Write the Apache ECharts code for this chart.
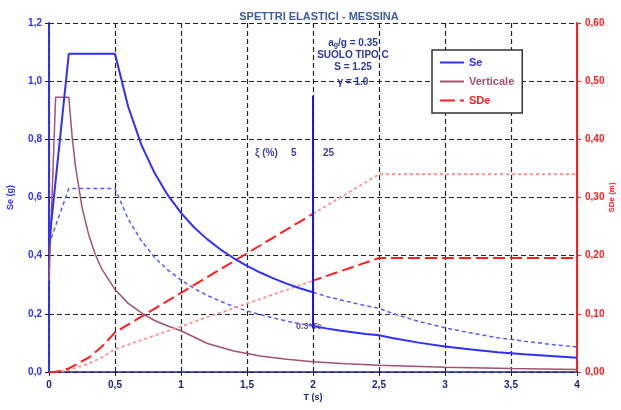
<!DOCTYPE html>
<html>
<head>
<meta charset="utf-8">
<script src="https://cdn.jsdelivr.net/npm/echarts@6/dist/echarts.min.js"></script>
<style>
  html, body { margin: 0; padding: 0; background: #fff; }
  #chart { width: 621px; height: 410px; }
</style>
</head>
<body>
<div id="chart"></div>
<script>
// periodo T (s) -> Se (g) / SDe (m)
var seMain = [[0,0.438],[0.15,1.094],[0.5,1.094],[0.6,0.912],[0.7,0.781],[0.8,0.684],[0.9,0.608],[1.0,0.547],
  [1.1,0.497],[1.2,0.456],[1.3,0.421],[1.4,0.391],[1.5,0.365],[1.6,0.342],[1.7,0.322],[1.8,0.304],[1.9,0.288],
  [2.0,0.274],[2.0,0.158],[2.1,0.150],[2.2,0.143],[2.3,0.137],[2.4,0.131],[2.5,0.126],[2.6,0.117],[2.8,0.101],
  [3.0,0.088],[3.2,0.077],[3.4,0.068],[3.6,0.061],[3.8,0.055],[4.0,0.049]];
var seAltA = [[0,0.438],[0.15,0.631],[0.5,0.631],[0.6,0.526],[0.7,0.451],[0.8,0.394],[0.9,0.351],[1.0,0.316],
  [1.1,0.287],[1.2,0.263],[1.3,0.243],[1.4,0.225],[1.5,0.210],[1.6,0.197],[1.7,0.186],[1.8,0.175],[1.9,0.166],[2.0,0.158]];
var seAltB = [[2.0,0.274],[2.1,0.260],[2.2,0.249],[2.3,0.238],[2.4,0.228],[2.5,0.219],[2.6,0.202],[2.8,0.174],
  [3.0,0.152],[3.2,0.134],[3.4,0.118],[3.6,0.106],[3.8,0.095],[4.0,0.086]];
var verticale = [[0,0.315],[0.05,0.945],[0.15,0.945],[0.175,0.810],[0.2,0.709],[0.25,0.567],[0.3,0.473],[0.35,0.405],
  [0.4,0.354],[0.5,0.284],[0.6,0.236],[0.7,0.203],[0.8,0.177],[0.9,0.158],[1.0,0.142],[1.2,0.098],[1.4,0.072],
  [1.6,0.055],[1.8,0.044],[2.0,0.035],[2.25,0.028],[2.5,0.023],[3.0,0.016],[3.5,0.012],[4.0,0.009]];
var isoLine = [[2.0,0.95],[2.0,0.15]];
var sdeMain = [[0,0],[0.05,0.0004],[0.1,0.0022],[0.15,0.0061],[0.3,0.0245],[0.4,0.0435],[0.5,0.068],[1.0,0.136],
  [2.0,0.272],[2.0,0.157],[2.5,0.196],[4.0,0.196]];
var sdeAltA = [[0,0],[0.05,0.0003],[0.1,0.0014],[0.15,0.0035],[0.3,0.0141],[0.4,0.0251],[0.5,0.0392],[1.0,0.0784],[2.0,0.157]];
var sdeAltB = [[2.0,0.272],[2.5,0.340],[4.0,0.340]];

var xTicks = { min: 0, max: 4, step: 0.5 };
var seTicks = { min: 0, max: 1.2, step: 0.2 };
var sdeTicks = { min: 0, max: 0.6, step: 0.1 };

var BLUE = '#2f2fff', BLUE2 = '#5a5aff', MAUVE = '#a3526f', RED = '#ff1e1e', RED2 = '#ff8c8c', NAVY = '#1c2580';
var FONT = 'Liberation Sans, Arial, sans-serif';
var gridDash = { color: '#222', width: 1.2, type: [5, 3] };

function comma(d) { return function (v) { return v.toFixed(d).replace('.', ','); }; }

// icone della legenda: solo la linea, SDe tratteggiata
var ICON_LINE = 'path://M0,5h24v2h-24z';
var ICON_DASH = 'path://M0,5h15v2h-15z M20,5h2v2h-2z M22,5h2v2h-2z';

var myChart = echarts.init(document.getElementById('chart'));
var option = {
  animation: false,
  title: {
    text: 'SPETTRI ELASTICI - MESSINA',
    left: 314, top: 6, textAlign: 'center',
    textStyle: { fontFamily: FONT, fontSize: 11, fontWeight: 'bold', color: '#3e5c9e' }
  },
  grid: { left: 49, right: 44, top: 23, bottom: 38, outerBoundsMode: 'none', containLabel: false },
  legend: {
    orient: 'vertical', left: 432, top: 50,
    padding: [7, 8, 7, 8], itemGap: 8, itemWidth: 24, itemHeight: 12,
    backgroundColor: '#fff', borderColor: '#333', borderWidth: 1.5, borderRadius: 0,
    textStyle: { fontFamily: FONT, fontSize: 11, fontWeight: 'bold' },
    data: [
      { name: 'Se', icon: ICON_LINE, textStyle: { color: BLUE } },
      { name: 'Verticale', icon: ICON_LINE, textStyle: { color: MAUVE } },
      { name: 'SDe', icon: ICON_DASH, textStyle: { color: RED } }
    ]
  },
  xAxis: {
    type: 'value', min: xTicks.min, max: xTicks.max, interval: xTicks.step,
    name: 'T (s)', nameLocation: 'middle', nameGap: 21, nameMoveOverlap: false,
    nameTextStyle: { fontFamily: FONT, fontSize: 9, fontWeight: 'bold', color: NAVY },
    axisLine: { lineStyle: { color: NAVY, width: 1.5 } },
    axisTick: { show: true, length: 4, lineStyle: { color: '#222' } },
    axisLabel: { formatter: function (v) { return String(v).replace('.', ','); },
      fontFamily: FONT, fontSize: 10, fontWeight: 'bold', color: NAVY, margin: 8 },
    splitLine: { show: true, lineStyle: gridDash }
  },
  yAxis: [
    {
      type: 'value', min: seTicks.min, max: seTicks.max, interval: seTicks.step,
      name: 'Se (g)', nameLocation: 'middle', nameGap: 34, nameRotate: 90, nameMoveOverlap: false,
      nameTextStyle: { fontFamily: FONT, fontSize: 9, fontWeight: 'bold', color: BLUE },
      axisLine: { show: true, lineStyle: { color: BLUE, width: 2 } },
      axisTick: { show: true, length: 4, lineStyle: { color: '#222' } },
      axisLabel: { formatter: comma(1), fontFamily: FONT, fontSize: 10, fontWeight: 'bold', color: BLUE, margin: 7 },
      splitLine: { show: true, lineStyle: gridDash }
    },
    {
      type: 'value', position: 'right', min: sdeTicks.min, max: sdeTicks.max, interval: sdeTicks.step,
      name: 'SDe (m)', nameLocation: 'middle', nameGap: 31, nameRotate: 90, nameMoveOverlap: false,
      nameTextStyle: { fontFamily: FONT, fontSize: 8, fontWeight: 'bold', color: RED },
      axisLine: { show: true, lineStyle: { color: RED, width: 2 } },
      axisTick: { show: true, length: 4, lineStyle: { color: RED } },
      axisLabel: { formatter: comma(2), fontFamily: FONT, fontSize: 10, fontWeight: 'bold', color: RED, margin: 8 },
      splitLine: { show: false }
    }
  ],
  graphic: [
    { type: 'text', x: 353, y: 38, style: { text: '{a|a}{s|g}{a|/g = 0.35}', textAlign: 'center',
        rich: { a: { fontFamily: FONT, fontSize: 10, fontWeight: 'bold', fill: '#2e3a9a' },
                s: { fontFamily: FONT, fontSize: 7, fontWeight: 'bold', fill: '#2e3a9a', verticalAlign: 'bottom', padding: [4, 0, 0, 0] } } } },
    { type: 'text', x: 353, y: 50, style: { text: 'SUOLO TIPO C', textAlign: 'center', font: 'bold 10px ' + FONT, fill: '#2e3a9a' } },
    { type: 'text', x: 353, y: 62, style: { text: 'S = 1.25', textAlign: 'center', font: 'bold 10px ' + FONT, fill: '#2e3a9a' } },
    { type: 'text', x: 353, y: 77, style: { text: 'γ = 1.0', textAlign: 'center', font: 'bold 10px ' + FONT, fill: '#2e3a9a' } },
    { type: 'text', x: 255, y: 148, style: { text: 'ξ (%)', font: 'bold 10px ' + FONT, fill: '#4040a8' } },
    { type: 'text', x: 291, y: 148, style: { text: '5', font: 'bold 10px ' + FONT, fill: '#4040a8' } },
    { type: 'text', x: 323, y: 148, style: { text: '25', font: 'bold 10px ' + FONT, fill: '#4040a8' } },
    { type: 'text', x: 296, y: 322, z: 1, style: { text: '0.3*Tc', font: 'bold 9px ' + FONT, fill: '#6a4a6a' } }
  ],
  series: [
    { name: 'Se', type: 'line', data: seMain, symbol: 'none', z: 5,
      lineStyle: { color: BLUE, width: 2 }, itemStyle: { color: BLUE } },
    { name: 'Se25a', type: 'line', data: seAltA, symbol: 'none',
      lineStyle: { color: BLUE2, width: 1.5, type: [4, 3] }, itemStyle: { color: BLUE2 } },
    { name: 'Se25b', type: 'line', data: seAltB, symbol: 'none',
      lineStyle: { color: BLUE2, width: 1.5, type: [4, 3] }, itemStyle: { color: BLUE2 } },
    { name: 'Iso', type: 'line', data: isoLine, symbol: 'none', z: 5,
      lineStyle: { color: '#1a1adc', width: 2 }, itemStyle: { color: BLUE } },
    { name: 'Verticale', type: 'line', data: verticale, symbol: 'none',
      lineStyle: { color: MAUVE, width: 1.5 }, itemStyle: { color: MAUVE } },
    { name: 'SDe', type: 'line', yAxisIndex: 1, data: sdeMain, symbol: 'none', z: 4,
      lineStyle: { color: RED, width: 2, type: [12, 5] }, itemStyle: { color: RED } },
    { name: 'SDe2a', type: 'line', yAxisIndex: 1, data: sdeAltA, symbol: 'none',
      lineStyle: { color: RED2, width: 1.8, type: [3, 3] }, itemStyle: { color: RED2 } },
    { name: 'SDe2b', type: 'line', yAxisIndex: 1, data: sdeAltB, symbol: 'none',
      lineStyle: { color: RED2, width: 1.8, type: [3, 3] }, itemStyle: { color: RED2 } }
  ]
};
myChart.setOption(option);
</script>
</body>
</html>
